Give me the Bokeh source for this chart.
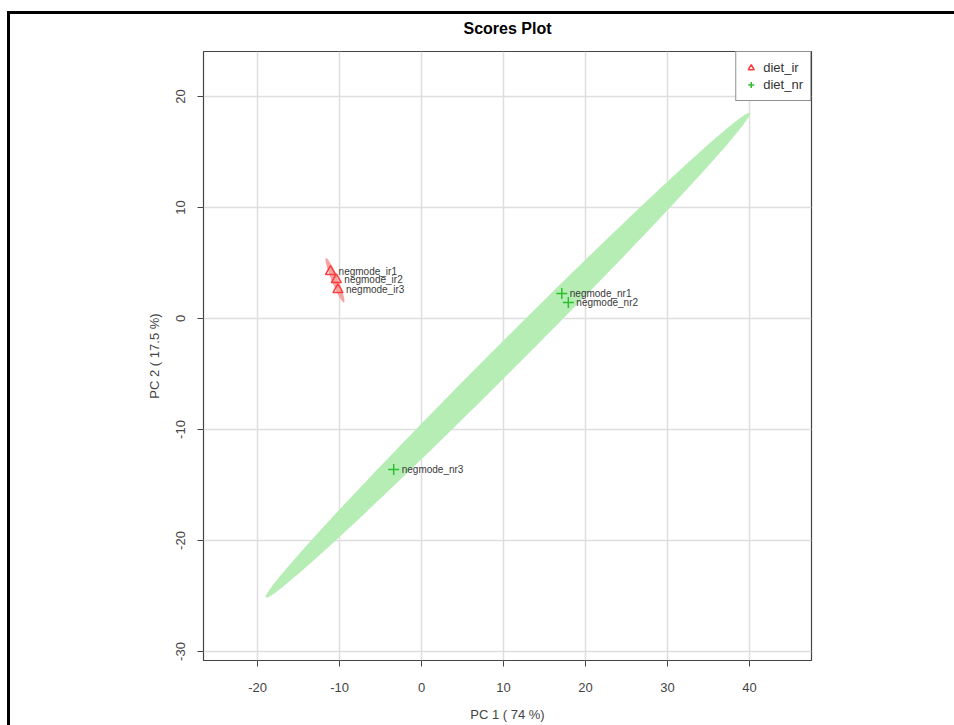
import numpy as np
from bokeh.plotting import figure
from bokeh.models import Range1d, FixedTicker, ColumnDataSource, Legend, LegendItem, PrintfTickFormatter
from bokeh.core.properties import value
from bokeh.embed import file_html
from bokeh.resources import INLINE

# ---- data ----
ir_names = ["negmode_ir1", "negmode_ir2", "negmode_ir3"]
ir_pc1 = [-11.1, -10.4, -10.2]
ir_pc2 = [4.23, 3.5, 2.6]

nr_names = ["negmode_nr1", "negmode_nr2", "negmode_nr3"]
nr_pc1 = [17.1, 17.9, -3.4]
nr_pc2 = [2.25, 1.44, -13.6]

groups = ["diet_ir", "diet_nr"]
x_ticks = [-20, -10, 0, 10, 20, 30, 40]
y_ticks = [-30, -20, -10, 0, 10, 20]
chi2_95 = 5.991  # qchisq(0.95, 2)

FONT = "Liberation Sans"


def conf_ellipse(xs, ys, chi2=chi2_95, n=200):
    xs = np.asarray(xs, float)
    ys = np.asarray(ys, float)
    c = np.cov(np.vstack([xs, ys]))
    vals, vecs = np.linalg.eigh(c)
    vals = np.clip(vals, 0, None)
    t = np.linspace(0, 2 * np.pi, n)
    circ = np.vstack([np.cos(t), np.sin(t)])
    pts = vecs @ (np.sqrt(vals * chi2)[:, None] * circ)
    return xs.mean() + pts[0], ys.mean() + pts[1]


p = figure(width=954, height=725, output_backend="svg", toolbar_location=None,
           x_range=Range1d(-26.6, 47.56), y_range=Range1d(-30.81, 24.05),
           min_border_left=203, min_border_right=143, min_border_top=51, min_border_bottom=65)

# outer black frame of the exported image (drawn behind a transparent border area)
p.border_fill_alpha = 0
p.styles = {
    "background": "linear-gradient(#000, #000) 7px 11px / 100% 3px no-repeat, "
                  "linear-gradient(#000, #000) 7px 11px / 3px 100% no-repeat, #fff"
}

# grid
p.xgrid.ticker = FixedTicker(ticks=x_ticks)
p.ygrid.ticker = FixedTicker(ticks=y_ticks)
p.grid.grid_line_color = "#dedede"
p.grid.grid_line_width = 1.5

# ellipses
ex, ey = conf_ellipse(ir_pc1, ir_pc2)
p.patch(ex, ey, fill_color="#f5a3a3", line_color=None)
gx, gy = conf_ellipse(nr_pc1, nr_pc2)
p.patch(gx, gy, fill_color="#b5edb5", line_color=None)

src_ir = ColumnDataSource(dict(x=ir_pc1, y=ir_pc2, name=ir_names))
src_nr = ColumnDataSource(dict(x=nr_pc1, y=nr_pc2, name=nr_names))

r_ir = p.scatter("x", "y", source=src_ir, marker="triangle", size=10,
                 fill_color=None, line_color="#ff3b3b", line_width=1.5)
r_nr = p.scatter("x", "y", source=src_nr, marker="cross", size=11,
                 line_color="#2dbf2d", line_width=1.5)

for src in (src_ir, src_nr):
    p.text("x", "y", text="name", source=src, x_offset=8, y_offset=0,
           text_baseline="middle", text_align="left",
           text_font=value(FONT), text_font_size="10px", text_color="#3a3a3a")

# legend
legend = Legend(items=[LegendItem(label=groups[0], renderers=[r_ir]),
                       LegendItem(label=groups[1], renderers=[r_nr])],
                location="top_right", margin=0, padding=7, spacing=0,
                label_text_font=FONT, label_text_font_size="13px", label_text_color="#333333",
                label_height=16, glyph_height=17, glyph_width=15, label_standoff=5,
                border_line_color="#222222", border_line_width=1,
                background_fill_color="white", background_fill_alpha=1)
p.add_layout(legend)

# axes
p.xaxis.ticker = FixedTicker(ticks=x_ticks)
p.yaxis.ticker = FixedTicker(ticks=y_ticks)
p.xaxis.formatter = PrintfTickFormatter(format="%d")
p.yaxis.formatter = PrintfTickFormatter(format="%d")
p.xaxis.axis_label = "PC 1 ( 74 %)"
p.yaxis.axis_label = "PC 2 ( 17.5 %)"
p.yaxis.major_label_orientation = "vertical"
for ax in (p.xaxis, p.yaxis):
    ax.axis_line_color = None
    ax.major_tick_line_color = "#444444"
    ax.major_tick_out = 6
    ax.major_tick_in = 0
    ax.minor_tick_line_color = None
    ax.major_label_text_font = FONT
    ax.major_label_text_font_size = "13px"
    ax.major_label_text_color = "#444444"
    ax.axis_label_text_font = FONT
    ax.axis_label_text_font_size = "13px"
    ax.axis_label_text_font_style = "normal"
    ax.axis_label_text_color = "#444444"
p.xaxis.major_label_standoff = 16
p.yaxis.major_label_standoff = 12
p.xaxis.axis_label_standoff = 12
p.yaxis.axis_label_standoff = 12

p.outline_line_color = "#444444"
p.outline_line_width = 1.2

p.title.text = "Scores Plot"
p.title.align = "center"
p.title.text_font = FONT
p.title.text_font_size = "16px"
p.title.text_font_style = "bold"
p.title.text_color = "black"
p.title.standoff = 30

open("out.html", "w").write(file_html(p, INLINE))
